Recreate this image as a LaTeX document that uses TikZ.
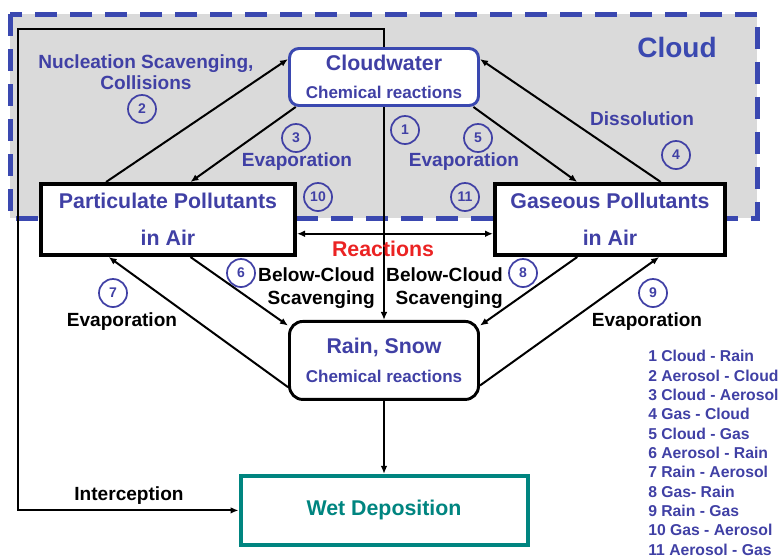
\documentclass[tikz,border=0pt]{standalone}
\usepackage{fontspec}
\setmainfont{Liberation Sans}
\usetikzlibrary{arrows.meta,positioning,calc}

\definecolor{cloudblue}{RGB}{58,72,176}
\definecolor{textblue}{RGB}{64,64,165}
\definecolor{cloudgray}{RGB}{218,218,218}
\definecolor{depteal}{RGB}{0,133,128}
\definecolor{reactred}{RGB}{235,35,35}

\begin{document}
\begin{tikzpicture}[
    x=0.75pt, y=-0.75pt,
    >={Latex[length=6pt,width=5pt]},
    box/.style={draw, line width=3pt, fill=white, align=center,
      text=textblue, inner sep=0pt,
      font=\fontsize{16}{20}\selectfont\bfseries},
    roundbox/.style={box, line width=2.2pt, rounded corners=7pt},
    lbl/.style={text=textblue, align=center, inner sep=0pt,
      font=\fontsize{14.3}{15.75}\selectfont\bfseries},
    blbl/.style={lbl, text=black},
    num/.style={circle, draw=textblue, line width=1.3pt, text=textblue,
      minimum size=21pt, inner sep=0pt,
      font=\fontsize{10.5}{12}\selectfont\bfseries},
    arrow/.style={->, line width=1.5pt}
  ]
  \useasboundingbox (0,0) rectangle (780,557);

  % cloud region
  \draw[cloudblue, fill=cloudgray, line width=3.75pt,
    dash pattern=on 16.5pt off 9.75pt] (10,14) rectangle (757,218);
  \node[text=cloudblue, font=\fontsize{21}{25}\selectfont\bfseries]
    (cloudlbl) at (677,47) {Cloud};

  \node[roundbox, draw=cloudblue, minimum width=141.75pt,
    minimum height=42.75pt] (cw) at (384,77)
    {Cloudwater\\[1.4pt]{\fontsize{12.8}{15}\selectfont Chemical reactions}};

  \node[box, minimum width=190.5pt, minimum height=53.25pt] (pp)
    at (168,219.5) {Particulate Pollutants\\[7.75pt]in Air};

  \node[box, minimum width=172.5pt, minimum height=53.25pt] (gp)
    at (610,219.5) {Gaseous Pollutants\\[7.75pt]in Air};

  \node[roundbox, rounded corners=10pt, minimum width=141.75pt,
    minimum height=58.5pt, below=159.75pt of cw] (rain)
    {Rain, Snow\\[2pt]{\fontsize{12.8}{15}\selectfont Chemical reactions}};

  \node[box, draw=depteal, text=depteal, minimum width=215.25pt,
    minimum height=51.75pt, below=54.75pt of rain] (wet) {Wet Deposition};

  \coordinate (icorner) at (18,29);

  % in-cloud exchanges
  \draw[arrow] ($(pp.north west)!0.26!(pp.north east)$)
    -- ($(cw.north west)!0.2!(cw.south west)$);
  \draw[arrow] ($(cw.south west)!0.04!(cw.south east)$)
    -- ($(pp.north west)!0.587!(pp.north east)$);
  \draw[arrow] ($(cw.south west)!0.966!(cw.south east)$)
    -- ($(gp.north west)!0.36!(gp.north east)$);
  \draw[arrow] ($(gp.north west)!0.717!(gp.north east)$)
    -- ($(cw.north east)!0.2!(cw.south east)$);

  % below cloud
  \draw[arrow] (cw.south) -- (rain.north);
  \draw[arrow] ($(pp.south west)!0.587!(pp.south east)$)
    -- ($(rain.north west)!0.07!(rain.south west)$);
  \draw[arrow] ($(rain.north west)!0.83!(rain.south west)$)
    -- ($(pp.south west)!0.27!(pp.south east)$);
  \draw[arrow] ($(gp.south west)!0.36!(gp.south east)$)
    -- ($(rain.north east)!0.07!(rain.south east)$);
  \draw[arrow] ($(rain.north east)!0.81!(rain.south east)$)
    -- ($(gp.south west)!0.71!(gp.south east)$);
  \draw[arrow, <->] ($(pp.north east)!0.69!(pp.south east)$)
    -- ($(gp.north west)!0.69!(gp.south west)$);

  % deposition
  \draw[arrow] (rain.south) -- (rain.south |- wet.north);
  \draw[arrow] (cw.north) |- (icorner) |- (wet.west);

  % process labels
  \node[lbl] (nucl) at (146,72.5) {Nucleation Scavenging,\\Collisions};
  \node[num] (n2) at (142,109) {2};
  \node[num] (n3) at (296,138) {3};
  \node[lbl] (evapcl) at (297,162) {Evaporation};
  \node[num] (n10) at (318,197) {10};
  \node[num] (n1) at (405,130) {1};
  \node[num] (n5) at (478,138) {5};
  \node[lbl] (evapcg) at (464,162) {Evaporation};
  \node[num] (n11) at (465,197) {11};
  \node[lbl] (diss) at (642,119) {Dissolution};
  \node[num] (n4) at (676,155) {4};

  \node[text=reactred, font=\fontsize{16}{20}\selectfont\bfseries]
    (react) at (383,249) {Reactions};

  \node[num] (n6) at (241,273) {6};
  \node[blbl, align=right, anchor=east,
    font=\fontsize{14.3}{17.25}\selectfont\bfseries] (bcsl) at (375,288.5)
    {Below-Cloud\\Scavenging};
  \node[blbl, align=right, anchor=east,
    font=\fontsize{14.3}{17.25}\selectfont\bfseries] (bcsr) at (503,288.5)
    {Below-Cloud\\Scavenging};
  \node[num] (n8) at (523,273) {8};
  \node[num] (n7) at (113,293) {7};
  \node[blbl] (evapra) at (122,322) {Evaporation};
  \node[num] (n9) at (653,293) {9};
  \node[blbl] (evaprg) at (647,322) {Evaporation};
  \node[blbl] (intc) at (129,496) {Interception};

  % key to the numbers
  \node[anchor=north west, align=left, inner sep=0pt, text=textblue,
    font=\fontsize{11.8}{14.5}\selectfont\bfseries] (key) at (648,350)
    {1 Cloud - Rain\\2 Aerosol - Cloud\\3 Cloud - Aerosol\\4 Gas - Cloud\\
     5 Cloud - Gas\\6 Aerosol - Rain\\7 Rain - Aerosol\\8 Gas- Rain\\
     9 Rain - Gas\\10 Gas - Aerosol\\11 Aerosol - Gas};
\end{tikzpicture}
\end{document}
